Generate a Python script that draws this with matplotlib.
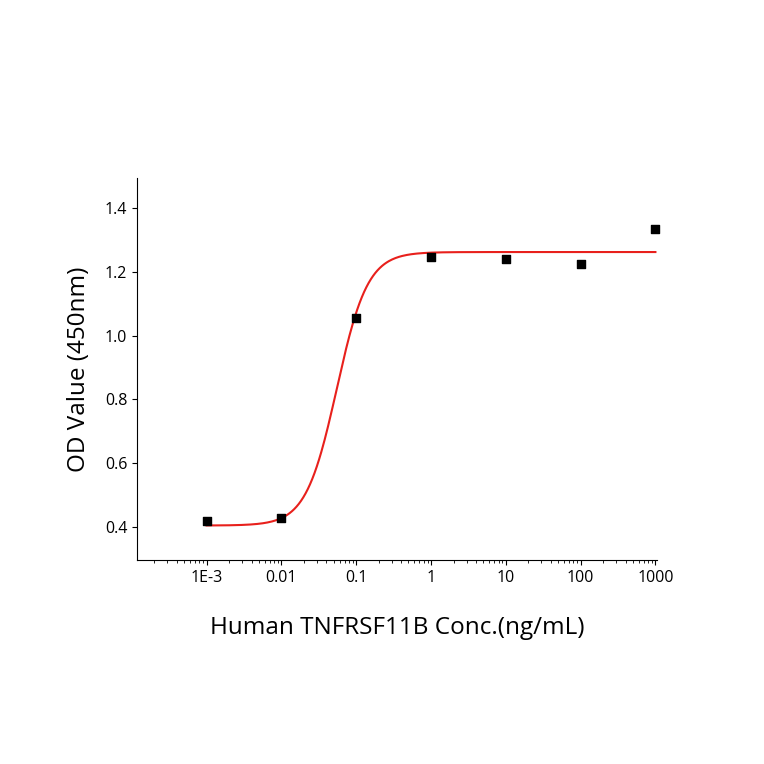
import numpy as np
import matplotlib
matplotlib.use('Agg')
import matplotlib.pyplot as plt

conc = [0.001, 0.01, 0.1, 1, 10, 100, 1000]
od = [0.42, 0.43, 1.055, 1.245, 1.24, 1.225, 1.335]

# fitted 4-parameter logistic
bottom, top, ec50, hill = 0.405, 1.262, 0.055, 2.1

plt.rcParams['font.family'] = ['Open Sans', 'DejaVu Sans']
fig = plt.figure(figsize=(7.64, 7.64), dpi=100)
ax = fig.add_axes([137 / 764, 1 - 560 / 764, 520 / 764, 382 / 764])

xs = np.logspace(-3, 3, 400)
ys = bottom + (top - bottom) / (1 + (ec50 / xs) ** hill)
ax.plot(xs, ys, color='#e8201c', lw=1.5)
ax.scatter(conc, od, marker='s', s=36, color='black', zorder=3, clip_on=False)

ax.set_xscale('log')
ax.set_xlim(10 ** -3.93, 1000 * 1.05)
ax.set_ylim(0.297, 1.494)
ax.set_xticks(conc)
ax.set_xticklabels(['1E-3', '0.01', '0.1', '1', '10', '100', '1000'])
ax.set_yticks([0.4, 0.6, 0.8, 1.0, 1.2, 1.4])
ax.set_yticklabels(['0.4', '0.6', '0.8', '1.0', '1.2', '1.4'])
ax.tick_params(labelsize=11.5)
ax.spines['top'].set_visible(False)
ax.spines['right'].set_visible(False)
ax.set_xlabel('Human TNFRSF11B Conc.(ng/mL)', fontsize=17.5, labelpad=22)
ax.set_ylabel('OD Value (450nm)', fontsize=17.5, labelpad=10)

fig.savefig('out.png', dpi=100)
